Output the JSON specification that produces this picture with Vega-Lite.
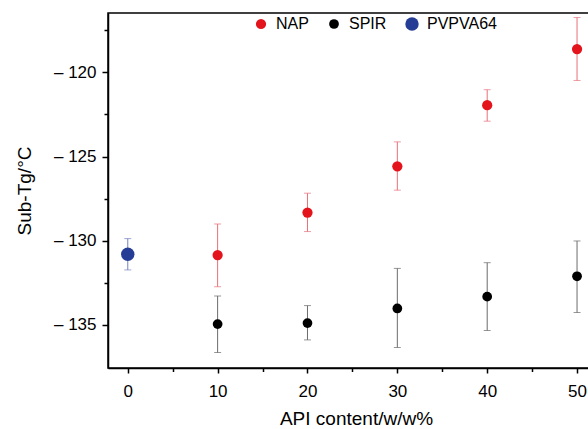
{
  "$schema": "https://vega.github.io/schema/vega-lite/v6.json",
  "autosize": "none",
  "padding": {"left": 108, "top": 13, "right": 0, "bottom": 61},
  "width": 496,
  "height": 355,
  "background": "white",
  "config": {
    "font": "Liberation Sans",
    "view": {"stroke": "black", "strokeWidth": 1.5},
    "axis": {"grid": false, "domainColor": "black", "domainWidth": 1.5, "tickColor": "black", "tickWidth": 1.5, "labelColor": "black", "titleColor": "black", "labelFont": "Liberation Sans", "titleFont": "Liberation Sans", "titleFontWeight": "normal"}
  },
  "data": {
    "values": [
      {"series": "PVPVA64", "x": 0, "y": -130.81, "lo": -131.74, "hi": -129.88},
      {"series": "NAP", "x": 10, "y": -130.86, "lo": -132.74, "hi": -129.01},
      {"series": "NAP", "x": 20, "y": -128.33, "lo": -129.46, "hi": -127.18},
      {"series": "NAP", "x": 30, "y": -125.58, "lo": -127.0, "hi": -124.13},
      {"series": "NAP", "x": 40, "y": -121.95, "lo": -122.9, "hi": -121.03},
      {"series": "NAP", "x": 50, "y": -118.61, "lo": -120.48, "hi": -116.74},
      {"series": "SPIR", "x": 10, "y": -134.96, "lo": -136.65, "hi": -133.29},
      {"series": "SPIR", "x": 20, "y": -134.9, "lo": -135.9, "hi": -133.86},
      {"series": "SPIR", "x": 30, "y": -134.03, "lo": -136.35, "hi": -131.65},
      {"series": "SPIR", "x": 40, "y": -133.33, "lo": -135.34, "hi": -131.31},
      {"series": "SPIR", "x": 50, "y": -132.12, "lo": -134.27, "hi": -130.02}
    ]
  },
  "encoding": {
    "x": {
      "field": "x", "type": "quantitative",
      "scale": {"domain": [-2.2, 53], "nice": false, "zero": false},
      "axis": {
        "title": "API content/w/w%",
        "values": [0, 5, 10, 15, 20, 25, 30, 35, 40, 45, 50],
        "labelExpr": "datum.value % 10 === 0 ? datum.label : ''",
        "tickSize": {"condition": {"test": "datum.value % 10 === 0", "value": 5}, "value": 3.5},
        "labelFontSize": 17,
        "labelPadding": 10,
        "titleFontSize": 19,
        "titlePadding": 10
      }
    }
  },
  "layer": [
    {
      "transform": [{"filter": "datum.series === 'NAP'"}],
      "mark": {"type": "errorbar", "color": "#e8707a", "ticks": {"size": 7, "thickness": 1}, "rule": {"strokeWidth": 1}},
      "encoding": {
        "y": {"field": "lo", "type": "quantitative", "title": "Sub-Tg/°C"},
        "y2": {"field": "hi"}
      }
    },
    {
      "transform": [{"filter": "datum.series === 'SPIR'"}],
      "mark": {"type": "errorbar", "color": "#6b6b6b", "ticks": {"size": 7, "thickness": 1}, "rule": {"strokeWidth": 1}},
      "encoding": {
        "y": {"field": "lo", "type": "quantitative", "title": "Sub-Tg/°C"},
        "y2": {"field": "hi"}
      }
    },
    {
      "transform": [{"filter": "datum.series === 'PVPVA64'"}],
      "mark": {"type": "errorbar", "color": "#7480c0", "ticks": {"size": 7, "thickness": 1}, "rule": {"strokeWidth": 1}},
      "encoding": {
        "y": {"field": "lo", "type": "quantitative", "title": "Sub-Tg/°C"},
        "y2": {"field": "hi"}
      }
    },
    {
      "mark": {"type": "circle", "opacity": 1},
      "encoding": {
        "y": {
          "field": "y", "type": "quantitative",
          "title": "Sub-Tg/°C",
          "scale": {"domain": [-137.57, -116.47], "nice": false, "zero": false},
          "axis": {
            "values": [-135, -132.5, -130, -127.5, -125, -122.5, -120, -117.5],
            "labelExpr": "datum.value % 5 === 0 ? '– ' + format(abs(datum.value), 'd') : ''",
            "tickSize": {"condition": {"test": "datum.value % 5 === 0", "value": 6}, "value": 4},
            "labelFontSize": 17,
            "labelPadding": 6,
            "titleFontSize": 19,
            "titlePadding": 19
          }
        },
        "color": {
          "field": "series", "type": "nominal",
          "scale": {"domain": ["NAP", "SPIR", "PVPVA64"], "range": ["#e3141b", "#000000", "#253d94"]},
          "legend": {
            "title": null,
            "orient": "none",
            "direction": "horizontal",
            "legendX": 145,
            "legendY": 3,
            "labelFontSize": 16,
            "labelColor": "black",
            "labelOffset": 7,
            "columnPadding": 17,
            "symbolType": "circle"
          }
        },
        "size": {
          "field": "series", "type": "nominal",
          "scale": {"type": "ordinal", "domain": ["NAP", "SPIR", "PVPVA64"], "range": [105, 95, 180]},
          "legend": {
            "title": null,
            "orient": "none",
            "direction": "horizontal",
            "legendX": 145,
            "legendY": 3,
            "labelFontSize": 16,
            "labelColor": "black",
            "labelOffset": 7,
            "columnPadding": 17,
            "symbolType": "circle"
          }
        }
      }
    }
  ]
}
